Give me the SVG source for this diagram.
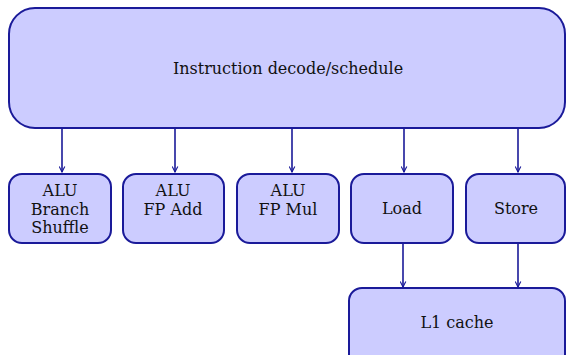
<svg xmlns="http://www.w3.org/2000/svg" width="566" height="355" viewBox="0 0 566 355">
<style>
.box{fill:#ccccff;stroke:#1a1a99;stroke-width:2}
.t{font-family:"DejaVu Serif","Liberation Serif",serif;font-size:16px;fill:#111;text-anchor:middle}
.c{stroke:#1a1a99;stroke-width:1.6;fill:none;marker-end:url(#ah)}
</style>
<defs>
<marker id="ah" viewBox="0 0 10 10" refX="9" refY="5" markerWidth="7" markerHeight="7" markerUnits="userSpaceOnUse" orient="auto">
<path d="M1,1 L9,5 L1,9" fill="none" stroke="#1a1a99" stroke-width="1.6"/>
</marker>
</defs>
<rect width="566" height="355" fill="#fff"/>
<g id="connectors">
<line class="c" x1="62" y1="129" x2="62" y2="172"/>
<line class="c" x1="175" y1="129" x2="175" y2="172"/>
<line class="c" x1="292" y1="129" x2="292" y2="172"/>
<line class="c" x1="404" y1="129" x2="404" y2="172"/>
<line class="c" x1="518" y1="129" x2="518" y2="172"/>
<line class="c" x1="403" y1="244" x2="403" y2="287"/>
<line class="c" x1="518" y1="244" x2="518" y2="287"/>
</g>
<g id="decode">
<rect class="box" x="9" y="8" width="556" height="120" rx="26"/>
<text class="t" x="288" y="74">Instruction decode/schedule</text>
</g>
<g id="alu1">
<rect class="box" x="9" y="174" width="102" height="69" rx="13"/>
<text class="t" x="60" y="196">ALU</text>
<text class="t" x="60" y="215">Branch</text>
<text class="t" x="60" y="233">Shuffle</text>
</g>
<g id="alu2">
<rect class="box" x="123" y="174" width="101" height="69" rx="13"/>
<text class="t" x="173" y="196">ALU</text>
<text class="t" x="173" y="215">FP Add</text>
</g>
<g id="alu3">
<rect class="box" x="237" y="174" width="102" height="69" rx="13"/>
<text class="t" x="288" y="196">ALU</text>
<text class="t" x="288" y="215">FP Mul</text>
</g>
<g id="load">
<rect class="box" x="351" y="174" width="102" height="69" rx="13"/>
<text class="t" x="402" y="214">Load</text>
</g>
<g id="store">
<rect class="box" x="466" y="174" width="99" height="69" rx="13"/>
<text class="t" x="516" y="214">Store</text>
</g>
<g id="l1">
<rect class="box" x="349" y="288" width="216" height="80" rx="13"/>
<text class="t" x="457" y="328">L1 cache</text>
</g>
</svg>
